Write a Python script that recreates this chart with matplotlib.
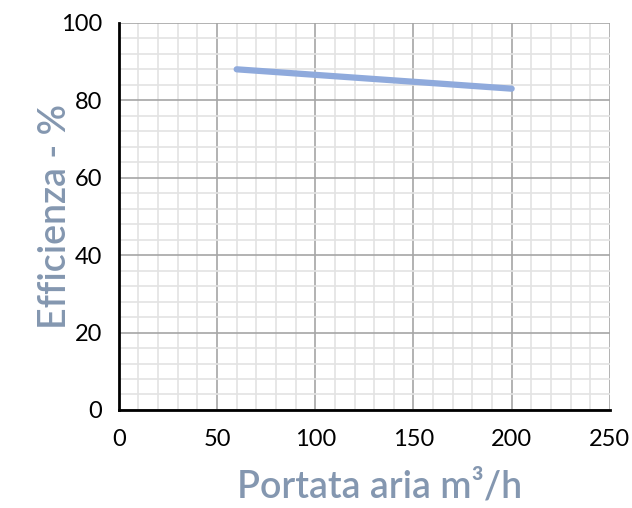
import numpy as np
import matplotlib.pyplot as plt
from matplotlib.ticker import MultipleLocator

# data
portata = [60, 200]
efficienza = [88, 83]

x_ticks = [0, 50, 100, 150, 200, 250]
y_ticks = [0, 20, 40, 60, 80, 100]

plt.rcParams['font.family'] = ['Lato', 'DejaVu Sans']

fig = plt.figure(figsize=(6.32, 5.08), dpi=100)
ax = fig.add_axes([0.188, 0.193, 0.777, 0.762])

ax.plot(portata, efficienza, '-', color='#8faadc', lw=4.5, solid_capstyle='round', zorder=3)

ax.set_xlim(0, 250)
ax.set_ylim(0, 100)
ax.set_xticks(x_ticks)
ax.set_yticks(y_ticks)
ax.xaxis.set_minor_locator(MultipleLocator(10))
ax.yaxis.set_minor_locator(MultipleLocator(4))
ax.grid(which='major', color='#a6a6a6', lw=1.2)
ax.grid(which='minor', color='#e3e3e3', lw=1.2)
ax.set_axisbelow(True)

for s in ['top', 'right']:
    ax.spines[s].set_visible(False)
for s in ['left', 'bottom']:
    ax.spines[s].set_color('black')
    ax.spines[s].set_linewidth(2)

ax.tick_params(which='both', length=0, labelsize=17, colors='black')
ax.tick_params(axis='x', pad=14)
ax.tick_params(axis='y', pad=12)

ax.set_xlabel('Portata aria m³/h', fontsize=27, fontweight='semibold', color='#8497b0', va='center')
ax.set_ylabel('Efficienza - %', fontsize=27, fontweight='semibold', color='#8497b0', va='center')
ax.xaxis.set_label_coords(0.53, -0.2)
ax.yaxis.set_label_coords(-0.128, 0.5)

fig.savefig('out.png', dpi=100)
